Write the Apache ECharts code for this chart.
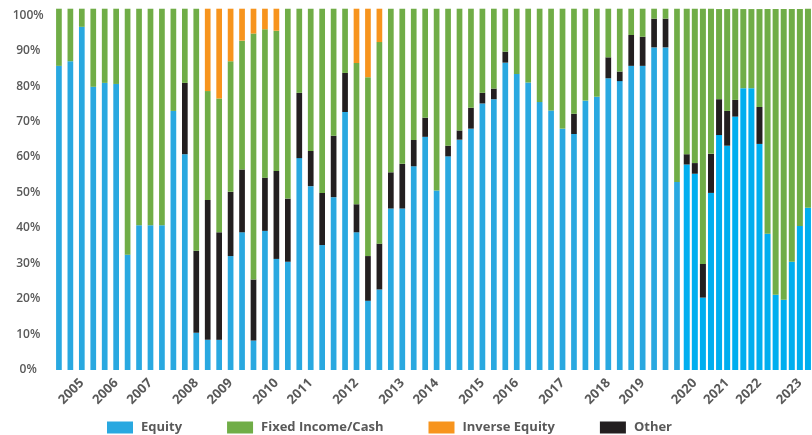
<!DOCTYPE html>
<html>
<head>
<meta charset="utf-8">
<script src="https://cdn.jsdelivr.net/npm/echarts@6/dist/echarts.min.js"></script>
<style>
html,body{margin:0;padding:0;background:#fff;}
#chart{width:812px;height:435px;}
</style>
</head>
<body>
<div id="chart"></div>
<script>
// One entry per rebalance period (bar); year label shown under selected periods
const periodLabels = [
  '', '', '2005', '', '', '2006', '', '', '2007', '', '', '', '2008', '', '', '2009', '', '', '', '2010',
  '', '', '2011', '', '', '', '2012', '', '', '', '2013', '', '', '2014', '', '', '', '2015', '', '',
  '2016', '', '', '', '2017', '', '', '', '2018', '', '', '2019', '', '', '',
  '', '2020', '', '', '', '2021', '', '', '', '2022', '', '', '', '', '2023', ''
];
// Number of periods drawn in the first (wider-spaced) block
const firstBlockCount = 55;

const equity = [
  85.7, 87.0, 96.7, 79.8, 80.9, 80.6, 32.5, 40.8, 40.8, 40.8,
  73.0, 60.8, 10.5, 8.5, 8.5, 32.1, 38.8, 8.3, 39.2, 31.3,
  30.5, 59.7, 51.8, 35.2, 48.7, 72.7, 38.8, 19.5, 22.7, 45.5,
  45.5, 57.4, 65.7, 50.6, 60.2, 64.9, 68.0, 75.1, 76.3, 86.6,
  83.4, 81.0, 75.5, 73.1, 68.0, 66.5, 75.9, 77.0, 82.2, 81.4,
  85.7, 85.7, 90.9, 90.9, 53.0,
  57.9, 55.3, 20.4, 49.9, 66.2, 63.2, 71.4, 79.4, 79.4, 63.7,
  38.4, 21.2, 19.8, 30.5, 40.6, 45.7
];
const other = [
  0, 0, 0, 0, 0, 0, 0, 0, 0, 0,
  0, 20.1, 23.1, 39.4, 30.3, 18.1, 17.7, 17.2, 15.0, 24.8,
  17.8, 18.4, 9.9, 14.7, 17.3, 11.0, 7.9, 12.6, 12.9, 10.2,
  12.6, 7.4, 5.4, 0, 3.0, 2.6, 5.9, 3.0, 3.0, 3.1,
  0, 0, 0, 0, 0, 5.7, 0, 0, 5.9, 2.7,
  8.7, 8.2, 8.1, 8.1, 0,
  2.9, 3.0, 9.5, 11.0, 10.1, 9.8, 4.7, 0, 0, 10.4,
  0, 0, 0, 0, 0, 0
];
const fixedIncome = [
  16.1, 14.8, 5.1, 22.0, 20.9, 21.2, 69.3, 61.0, 61.0, 61.0,
  28.8, 20.9, 68.2, 30.7, 37.7, 36.8, 36.3, 69.3, 41.8, 39.5,
  53.5, 23.7, 40.1, 51.9, 35.8, 18.1, 39.8, 50.4, 56.8, 46.1,
  43.7, 37.0, 30.7, 51.2, 38.6, 34.3, 27.9, 23.7, 22.5, 12.1,
  18.4, 20.8, 26.3, 28.7, 33.8, 29.6, 25.9, 24.8, 13.7, 17.7,
  7.4, 7.9, 2.8, 2.8, 48.8,
  41.0, 43.5, 71.9, 40.9, 25.4, 28.7, 25.7, 22.3, 22.3, 27.6,
  63.3, 80.5, 81.9, 71.2, 61.1, 56.1
];
const inverseEquity = [
  0, 0, 0, 0, 0, 0, 0, 0, 0, 0,
  0, 0, 0, 23.2, 25.3, 14.8, 9.0, 7.0, 5.8, 6.2,
  0, 0, 0, 0, 0, 0, 15.3, 19.3, 9.4, 0,
  0, 0, 0, 0, 0, 0, 0, 0, 0, 0,
  0, 0, 0, 0, 0, 0, 0, 0, 0, 0,
  0, 0, 0, 0, 0,
  0, 0, 0, 0, 0, 0, 0, 0, 0, 0,
  0, 0, 0, 0, 0, 0
];
const yTicks = [0, 10, 20, 30, 40, 50, 60, 70, 80, 90, 100];

const seriesDefs = [
  { name: 'Equity', values: equity, color: '#29A8E0', color2: '#00AEEF' },
  { name: 'Other', values: other, color: '#231F20', color2: '#231F20' },
  { name: 'Fixed Income/Cash', values: fixedIncome, color: '#70AD47', color2: '#70AD47' },
  { name: 'Inverse Equity', values: inverseEquity, color: '#F7941D', color2: '#F7941D' }
];

const textColor = '#595959';
const font = 'Open Sans';

const chart = echarts.init(document.getElementById('chart'), null, { renderer: 'canvas' });

const gridTop = 8, gridBottom = 65;
const series = [];
seriesDefs.forEach(d => {
  series.push({
    name: d.name, type: 'bar', stack: 'a', xAxisIndex: 0, yAxisIndex: 0,
    barWidth: 5.7, itemStyle: { color: d.color },
    data: d.values.slice(0, firstBlockCount)
  });
});
seriesDefs.forEach(d => {
  series.push({
    name: d.name, type: 'bar', stack: 'b', xAxisIndex: 1, yAxisIndex: 1,
    barWidth: 6, itemStyle: { color: d.color2 },
    data: d.values.slice(firstBlockCount)
  });
});

const xLabel = {
  interval: 0, rotate: 45, margin: 11, color: textColor,
  fontFamily: font, fontWeight: 700, fontSize: 13
};

chart.setOption({
  animation: false,
  backgroundColor: '#ffffff',
  grid: [
    { left: 53.2, width: 629.5, top: gridTop, bottom: gridBottom },
    { left: 682.7, width: 133.8, top: gridTop, bottom: gridBottom }
  ],
  xAxis: [
    { type: 'category', gridIndex: 0, data: periodLabels.slice(0, firstBlockCount),
      axisLine: { show: false }, axisTick: { show: false }, axisLabel: xLabel },
    { type: 'category', gridIndex: 1, data: periodLabels.slice(firstBlockCount),
      axisLine: { show: false }, axisTick: { show: false }, axisLabel: xLabel }
  ],
  yAxis: [
    { type: 'value', gridIndex: 0, min: yTicks[0], max: 102, interval: 10,
      splitLine: { show: false }, axisLine: { show: false }, axisTick: { show: false },
      axisLabel: {
        margin: 25, align: 'center', color: textColor, fontFamily: font, fontWeight: 600, fontSize: 12,
        formatter: v => (yTicks.indexOf(v) >= 0 ? v + '%' : '')
      } },
    { type: 'value', gridIndex: 1, min: 0, max: 102, interval: 10, show: false,
      splitLine: { show: false } }
  ],
  legend: {
    data: ['Equity', 'Fixed Income/Cash', 'Inverse Equity', 'Other'],
    left: 102, top: 416, icon: 'rect', itemWidth: 26, itemHeight: 12, itemGap: 45,
    textStyle: { color: textColor, fontFamily: font, fontWeight: 700, fontSize: 13, padding: [0, 0, 0, 3] }
  },
  series: series
});
</script>
</body>
</html>
